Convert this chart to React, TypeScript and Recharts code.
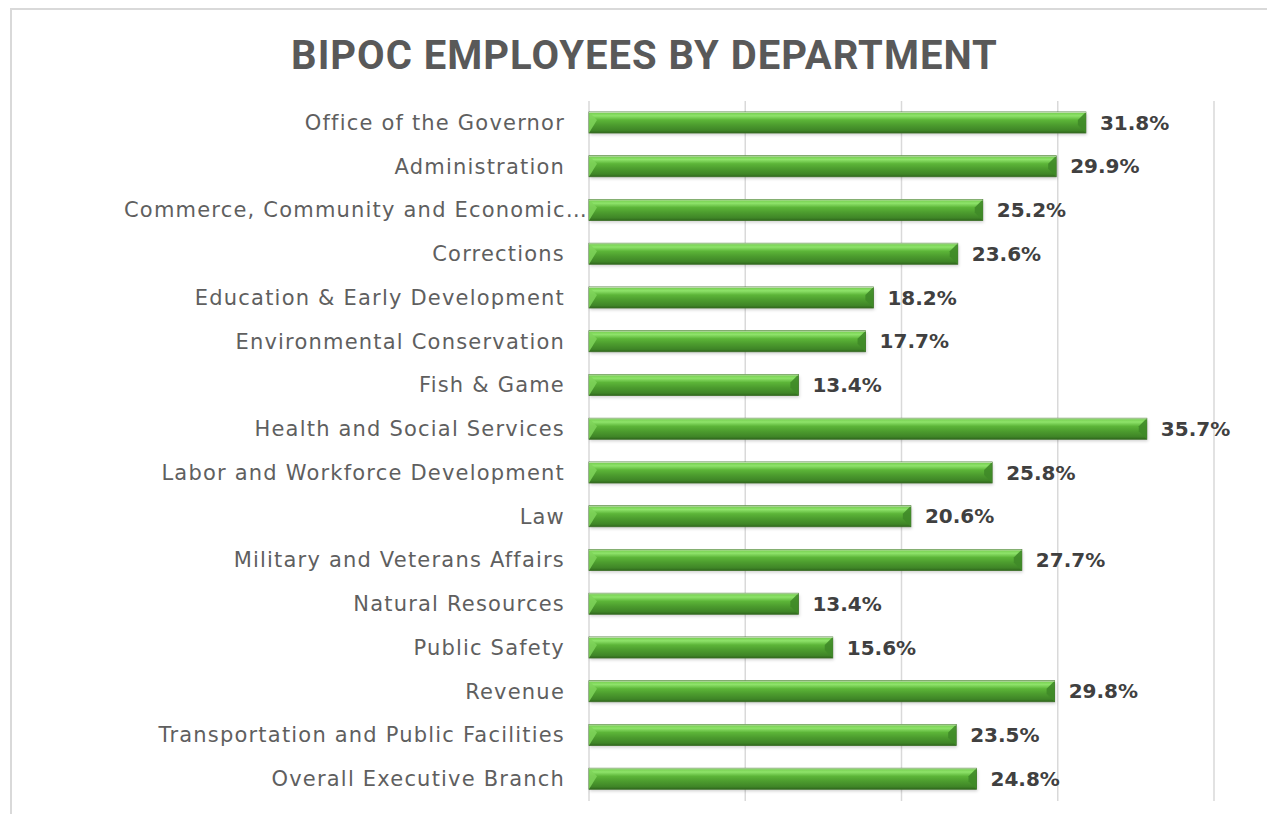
import React from "react";
import { BarChart, Bar, XAxis, YAxis, CartesianGrid, LabelList } from "recharts";

const departments = [
  "Office of the Governor",
  "Administration",
  "Commerce, Community and Economic…",
  "Corrections",
  "Education & Early Development",
  "Environmental Conservation",
  "Fish & Game",
  "Health and Social Services",
  "Labor and Workforce Development",
  "Law",
  "Military and Veterans Affairs",
  "Natural Resources",
  "Public Safety",
  "Revenue",
  "Transportation and Public Facilities",
  "Overall Executive Branch",
];

const bipocPct = [31.8, 29.9, 25.2, 23.6, 18.2, 17.7, 13.4, 35.7, 25.8, 20.6, 27.7, 13.4, 15.6, 29.8, 23.5, 24.8];

const xTicks = [0, 10, 20, 30, 40];

const data = departments.map((name, i) => ({ name, value: bipocPct[i] }));

const BevelBar = (props: any) => {
  const { x, y, width, height } = props;
  if (width <= 0) return null;
  const b = Math.min(8, width / 2);
  return (
    <g>
      <rect x={x + 1} y={y + 2} width={width} height={height} fill="rgba(0,0,0,0.18)" filter="url(#barShadow)" />
      <rect x={x} y={y} width={width} height={height} fill="url(#barGrad)" stroke="#3a6e25" strokeWidth={0.8} />
      <polygon points={`${x},${y} ${x + b},${y + b} ${x},${y + height}`} fill="#7fd35a" opacity={0.85} />
      <polygon points={`${x + width},${y} ${x + width - b},${y + b} ${x + width - b},${y + height - b} ${x + width},${y + height}`} fill="#3f8a28" opacity={0.9} />
      <line x1={x} y1={y + 0.5} x2={x + width} y2={y + 0.5} stroke="#b9d9a8" strokeWidth={1} />
    </g>
  );
};

const CatTick = (props: any) => {
  const { x, y, payload } = props;
  const long = String(payload.value).endsWith("…");
  return (
    <text
      x={long ? x + 7 : x - 16}
      y={y}
      dy={7}
      textAnchor="end"
      fill="#5f5f5f"
      fontSize={21}
      letterSpacing={1.2}
      fontFamily="'DejaVu Sans', sans-serif"
    >
      {payload.value}
    </text>
  );
};

export default function App() {
  return (
    <div style={{ position: "relative", width: 1267, height: 806, overflow: "hidden" }}>
      <div
        style={{
          position: "absolute",
          left: 2,
          top: 0,
          width: 1320,
          height: 900,
          border: "2px solid #d9d9d9",
          boxSizing: "border-box",
        }}
      />
      <div
        style={{
          position: "absolute",
          left: 0,
          top: 25,
          width: 1273,
          textAlign: "center",
          fontFamily: "Roboto, sans-serif",
          fontWeight: "bold",
          fontSize: 40,
          lineHeight: "46px",
          letterSpacing: 1,
          color: "#595959",
        }}
      >
        BIPOC EMPLOYEES BY DEPARTMENT
      </div>
      <div style={{ position: "absolute", left: 0, top: 0 }}>
        <BarChart
          width={1260}
          height={806}
          data={data}
          layout="vertical"
          margin={{ top: 93, right: 54, bottom: 13, left: 0 }}
          barCategoryGap={0}
        >
          <defs>
            <linearGradient id="barGrad" x1="0" y1="0" x2="0" y2="1">
              <stop offset="0%" stopColor="#6fca48" />
              <stop offset="18%" stopColor="#8ee36a" />
              <stop offset="38%" stopColor="#5cb538" />
              <stop offset="62%" stopColor="#4c9c2e" />
              <stop offset="88%" stopColor="#3f8527" />
              <stop offset="100%" stopColor="#2f671c" />
            </linearGradient>
            <filter id="barShadow" x="-5%" y="-50%" width="110%" height="200%">
              <feGaussianBlur stdDeviation="1.5" />
            </filter>
          </defs>
          <CartesianGrid horizontal={false} stroke="#d9d9d9" strokeWidth={1.5} />
          <XAxis type="number" domain={[0, 40]} ticks={xTicks} hide />
          <YAxis
            type="category"
            dataKey="name"
            width={581}
            axisLine={false}
            tickLine={false}
            interval={0}
            tick={<CatTick />}
          />
          <Bar dataKey="value" barSize={21} isAnimationActive={false} shape={<BevelBar />}>
            <LabelList
              dataKey="value"
              position="right"
              offset={14}
              formatter={(v: any) => `${Number(v).toFixed(1)}%`}
              fill="#404040"
              fontSize={20}
              fontWeight="bold"
              fontFamily="'DejaVu Sans', sans-serif"
            />
          </Bar>
        </BarChart>
      </div>
    </div>
  );
}
